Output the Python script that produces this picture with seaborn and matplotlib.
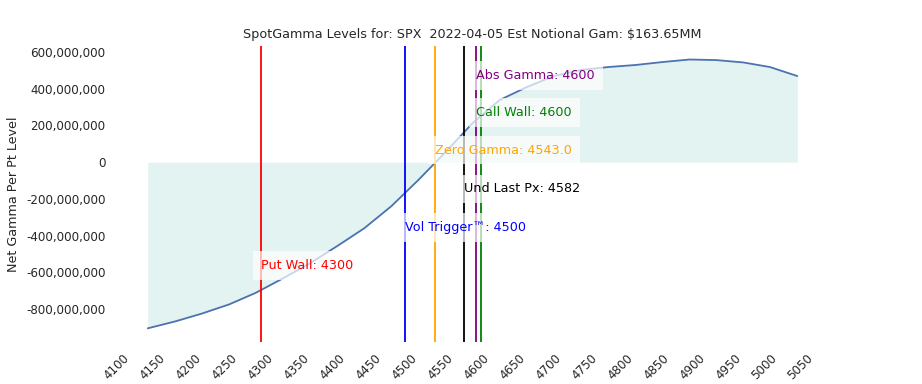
import numpy as np
import pandas as pd
import seaborn as sns
import matplotlib
matplotlib.use('Agg')
import matplotlib.pyplot as plt
from matplotlib.ticker import FuncFormatter, MultipleLocator

# 数据：价格水平与每点净Gamma（单位：百万）
strikes = [4143, 4180.6, 4218, 4256, 4293, 4331, 4368.6, 4406, 4444, 4481.6,
           4519, 4557, 4594.6, 4632, 4670, 4707.6, 4745, 4783, 4820.6, 4858,
           4896, 4933, 4971, 5008, 5046]
gamma_mm = [-905, -868, -825, -775, -712, -633, -551, -458, -360, -240,
            -98, 55, 213, 338, 409, 469, 502, 518, 529, 545,
            559, 556, 543, 518, 469]

# 关键价位
level_names = ['Abs Gamma', 'Call Wall', 'Zero Gamma', 'Und Last Px', 'Vol Trigger™', 'Put Wall']
level_values = [4600, 4600, 4543.0, 4582, 4500, 4300]
level_colors = ['purple', 'green', 'orange', 'black', 'blue', 'red']

df = pd.DataFrame({'strike': strikes, 'gamma': np.array(gamma_mm) * 1e6})

sns.set_style('white')
fs = 9.2
fig, ax = plt.subplots(figsize=(9.22, 3.84), dpi=100)
sns.lineplot(data=df, x='strike', y='gamma', ax=ax, color='#4c72b0', linewidth=1.3)
ax.fill_between(df.strike, 0, df.gamma, color='#009688', alpha=0.11, linewidth=0)

# 竖线 + 标签
ypos = [0.90, 0.775, 0.648, 0.517, 0.386, 0.258]
trans = ax.get_xaxis_transform()
for name, val, c, yp in zip(level_names, level_values, level_colors, ypos):
    xline = val + 6 if name == 'Call Wall' else val
    ax.axvline(xline, color=c, linewidth=1.3)
    label = f'{name}: {val}'
    ax.text(val, yp, label, color=c, transform=trans, ha='left', va='center', fontsize=fs,
            bbox=dict(facecolor='white', alpha=0.7, edgecolor='none', pad=5.5), zorder=5)

ax.xaxis.set_major_locator(MultipleLocator(50))
ax.yaxis.set_major_formatter(FuncFormatter(lambda v, p: f'{int(v):,}'))
ax.tick_params(labelsize=8.6)
plt.setp(ax.get_xticklabels(), rotation=45)
ax.set_xlabel('')
ax.set_ylabel('Net Gamma Per Pt Level', fontsize=fs)
ax.set_title('SpotGamma Levels for: SPX  2022-04-05 Est Notional Gam: $163.65MM', fontsize=fs)
sns.despine(left=True, bottom=True)
fig.savefig('out.png', dpi=100)
